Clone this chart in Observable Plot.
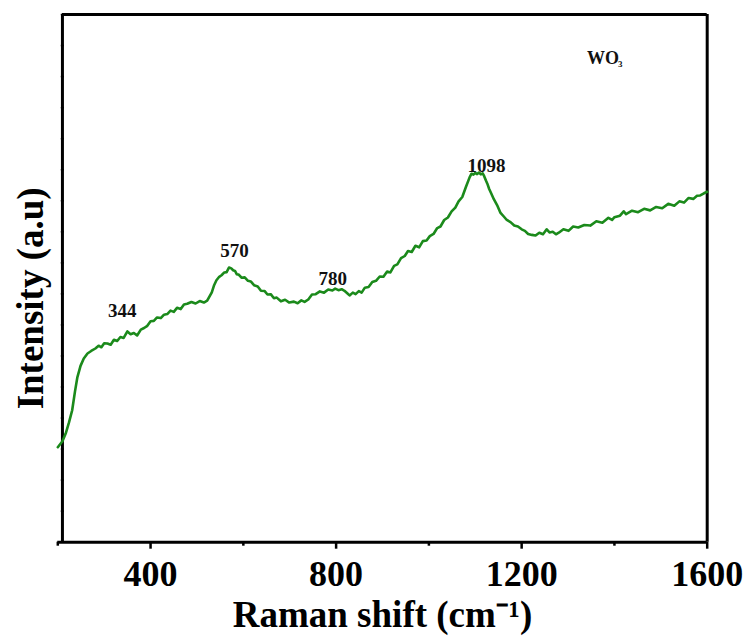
<!DOCTYPE html>
<html>
<head>
<meta charset="utf-8">
<script src="https://cdn.jsdelivr.net/npm/d3@7"></script>
<script src="https://cdn.jsdelivr.net/npm/@observablehq/plot@0.6"></script>
<style>
  html, body { margin: 0; padding: 0; background: #fff; }
  #chart { width: 751px; height: 636px; }
</style>
</head>
<body>
<div id="chart"></div>
<script>
// Raman shift (cm^-1)
const shift = [
  200, 210, 217, 224, 231, 237, 242, 249, 256, 264, 272, 281, 288, 294, 300, 307, 314, 321, 328, 335,
  342, 350, 357, 364, 371, 379, 386, 393, 400, 407, 414, 422, 429, 436, 443, 450, 457, 465, 472, 479,
  488, 497, 506, 515, 522, 532, 537, 542, 548, 553, 559, 564, 569, 574, 578, 582, 586, 590, 596, 603,
  610, 616, 623, 631, 638, 646, 652, 659, 666, 672, 681, 690, 699, 709, 717, 725, 732, 740, 748, 756,
  765, 774, 783, 792, 798, 805, 812, 818, 824, 829, 836, 842, 849, 855, 862, 870, 878, 886, 894, 902,
  910, 917, 925, 932, 940, 948, 955, 963, 971, 979, 987, 995, 1002, 1010, 1018, 1025, 1033, 1041, 1049, 1057,
  1064, 1072, 1080, 1088, 1092, 1096, 1100, 1104, 1108, 1112, 1116, 1119, 1123, 1126, 1130, 1134, 1140, 1147, 1154, 1161,
  1168, 1176, 1184, 1192, 1200, 1207, 1214, 1222, 1230, 1238, 1246, 1254, 1260, 1267, 1274, 1280, 1290, 1301, 1311, 1322,
  1335, 1348, 1361, 1374, 1387, 1395, 1400, 1412, 1420, 1425, 1438, 1451, 1464, 1477, 1490, 1503, 1516, 1529, 1540, 1550,
  1560, 1570, 1578, 1585, 1593, 1600
];
// Intensity (a.u.)
const intensity = [
  3.06, 3.25, 3.50, 3.85, 4.25, 4.85, 5.30, 5.68, 5.92, 6.08, 6.16, 6.24, 6.33, 6.28, 6.41, 6.40, 6.36, 6.52, 6.48, 6.61,
  6.58, 6.79, 6.70, 6.74, 6.66, 6.85, 6.90, 6.97, 7.12, 7.13, 7.24, 7.22, 7.33, 7.35, 7.46, 7.42, 7.55, 7.51, 7.66, 7.68,
  7.74, 7.69, 7.77, 7.72, 7.78, 8.05, 8.28, 8.44, 8.55, 8.60, 8.69, 8.70, 8.85, 8.82, 8.76, 8.74, 8.63, 8.62, 8.52, 8.53,
  8.42, 8.40, 8.28, 8.24, 8.10, 8.09, 7.98, 7.99, 7.86, 7.88, 7.76, 7.81, 7.72, 7.75, 7.70, 7.79, 7.74, 7.82, 7.98, 7.99,
  8.08, 8.04, 8.14, 8.11, 8.17, 8.12, 8.15, 8.10, 8.02, 7.95, 8.04, 7.99, 8.09, 8.04, 8.20, 8.22, 8.38, 8.42, 8.56, 8.55,
  8.72, 8.69, 8.90, 8.95, 9.15, 9.22, 9.38, 9.35, 9.55, 9.50, 9.70, 9.72, 9.86, 9.93, 10.12, 10.17, 10.38, 10.46, 10.66, 10.78,
  10.98, 11.12, 11.45, 11.76, 11.87, 11.84, 11.90, 11.86, 11.91, 11.85, 11.88, 11.80, 11.65, 11.55, 11.38, 11.25, 11.05, 10.86, 10.62, 10.50,
  10.38, 10.31, 10.20, 10.17, 10.08, 10.03, 9.93, 9.90, 9.88, 9.97, 9.92, 10.08, 9.98, 10.00, 9.92, 9.97, 10.08, 10.03, 10.17, 10.14,
  10.22, 10.20, 10.34, 10.29, 10.45, 10.38, 10.47, 10.52, 10.66, 10.57, 10.68, 10.63, 10.74, 10.69, 10.80, 10.76, 10.90, 10.84, 10.98, 10.94,
  11.09, 11.06, 11.16, 11.17, 11.24, 11.29
];

// Peak annotations
const peakLabels = ["344", "570", "780", "1098"];
const peakX = [339, 581, 793, 1124];
const peakY = [7.25, 9.18, 8.28, 11.93];

// Axis ticks
const xMajorTicks = [400, 800, 1200, 1600];
const xMinorTicks = [200, 600, 1000, 1400];
const yTicks = d3.range(0, 18, 1);

const xTitle = "Raman shift (cm\u207B\u00B9)";
const yTitle = "Intensity (a.u)";
const sampleMain = "WO";
const sampleSub = "3";

const spectrum = shift.map((x, i) => ({x, y: intensity[i]}));
const peaks = peakLabels.map((t, i) => ({t, x: peakX[i], y: peakY[i]}));

const serif = "'Liberation Serif', 'Times New Roman', Times, serif";
const xMin = 200, xMax = 1600, yMin = 0, yMax = 17, frameLeft = 210;

const chart = Plot.plot({
  width: 751,
  height: 636,
  marginLeft: 57.3,
  marginRight: 44.3,
  marginTop: 14,
  marginBottom: 94.3,
  style: {background: "#fff", fontFamily: serif, color: "#000"},
  x: {domain: [xMin, xMax]},
  y: {domain: [yMin, yMax]},
  marks: [
    // frame
    Plot.ruleY([yMin], {x1: xMin, x2: xMax, stroke: "#000", strokeWidth: 3}),
    Plot.ruleY([yMax], {x1: frameLeft, x2: xMax, stroke: "#000", strokeWidth: 3}),
    Plot.ruleX([xMax], {y1: yMin, y2: yMax, stroke: "#000", strokeWidth: 3}),
    Plot.ruleX([frameLeft], {y1: yMin, y2: yMax, stroke: "#000", strokeWidth: 3}),
    // axes
    Plot.axisX({ticks: xMajorTicks, tickSize: 7, tickPadding: 11, tickFormat: d => String(d),
      fontSize: 36, fontWeight: "bold", fontFamily: serif, strokeWidth: 2.5, label: null}),
    Plot.axisX({ticks: xMinorTicks, tickSize: 4, tickFormat: () => "", strokeWidth: 2.5, label: null}),
    Plot.axisY({ticks: yTicks, tickSize: 3, dx: 6.5, tickFormat: () => "", strokeWidth: 1.5, label: null}),
    // spectrum
    Plot.line(spectrum, {x: "x", y: "y", stroke: "#1b8a1b", strokeWidth: 2.6, curve: "linear"}),
    // annotations
    Plot.text(peaks, {x: "x", y: "y", text: "t", textAnchor: "middle", lineAnchor: "bottom",
      fontSize: 19, fontWeight: "bold", fontFamily: serif, fill: "#111"}),
    Plot.text([sampleMain], {x: 1341, y: 15.41, text: d => d, textAnchor: "start", lineAnchor: "bottom",
      fontSize: 18, fontWeight: "bold", fontFamily: serif, fill: "#111"}),
    Plot.text([sampleSub], {x: 1341, y: 15.41, text: d => d, textAnchor: "start", lineAnchor: "bottom",
      dx: 31, dy: 3, fontSize: 9, fontWeight: "bold", fontFamily: serif, fill: "#111"}),
    // axis titles
    Plot.text([xTitle], {frameAnchor: "bottom", text: d => d, dy: 73, textAnchor: "middle", lineAnchor: "middle",
      fontSize: 37, fontWeight: "bold", fontFamily: serif, fill: "#000"}),
    Plot.text([yTitle], {frameAnchor: "left", text: d => d, rotate: -90, dx: -27, dy: 20,
      textAnchor: "middle", lineAnchor: "middle", fontSize: 37, fontWeight: "bold", fontFamily: serif, fill: "#000"})
  ]
});
document.getElementById("chart").appendChild(chart);
</script>
</body>
</html>
